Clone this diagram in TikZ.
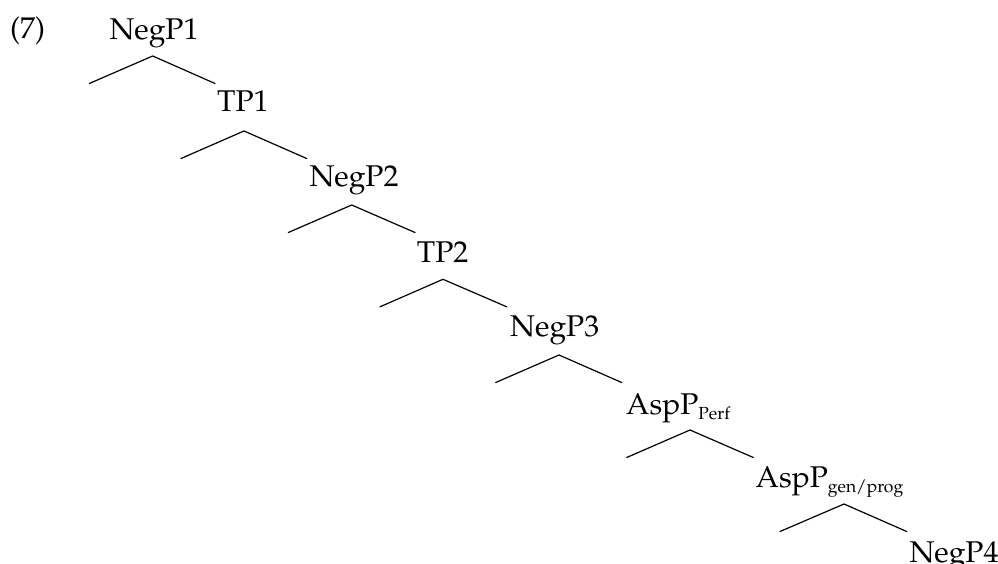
\documentclass[tikz,border=0pt]{standalone}
\usepackage[T1]{fontenc}
\usepackage{mathpazo}
\begin{document}
\begin{tikzpicture}[x=1pt,y=-1pt,
  lbl/.style={anchor=base west,inner sep=0pt,font=\fontsize{30}{36}\selectfont},
  branch/.style={line width=1.2pt,line cap=round}]
\useasboundingbox (0,0) rectangle (998,564);
\newcommand\subtxt[1]{\raisebox{-5pt}{\fontsize{17.5}{18}\selectfont #1}}
\node[lbl] (ex) at (10,39) {(7)};
\node[lbl] (n1) at (109.3,39.3) {NegP1};
\node[lbl] (n2) at (217,111.7) {TP1};
\node[lbl] (n3) at (309.3,186.7) {NegP2};
\node[lbl] (n4) at (416.7,262.3) {TP2};
\node[lbl] (n5) at (510,336.7) {NegP3};
\node[lbl] (n6) at (626,414) {AspP\subtxt{Perf}};
\node[lbl] (n7) at (755.5,487) {AspP\subtxt{gen/prog}};
\node[lbl] (n8) at (909.3,562) {NegP4};
% triangles
\foreach \i/\ax/\ay/\lx/\rx in {1/152.7/56/89.3/215, 2/244/131/181/306.7, 3/351.7/205/288.3/415, 4/443/279.3/380/506.7, 5/559/355/495.7/621.7, 6/690/430/626.7/753.3, 7/844/504/780/906.7}{
  \coordinate (a\i) at (\ax,\ay);
  \coordinate (l\i) at (\lx,\ay+27.5);
  \coordinate (r\i) at (\rx,\ay+27.5);
  \draw[branch] (l\i) -- (a\i) -- (r\i);
}
\end{tikzpicture}
\end{document}
